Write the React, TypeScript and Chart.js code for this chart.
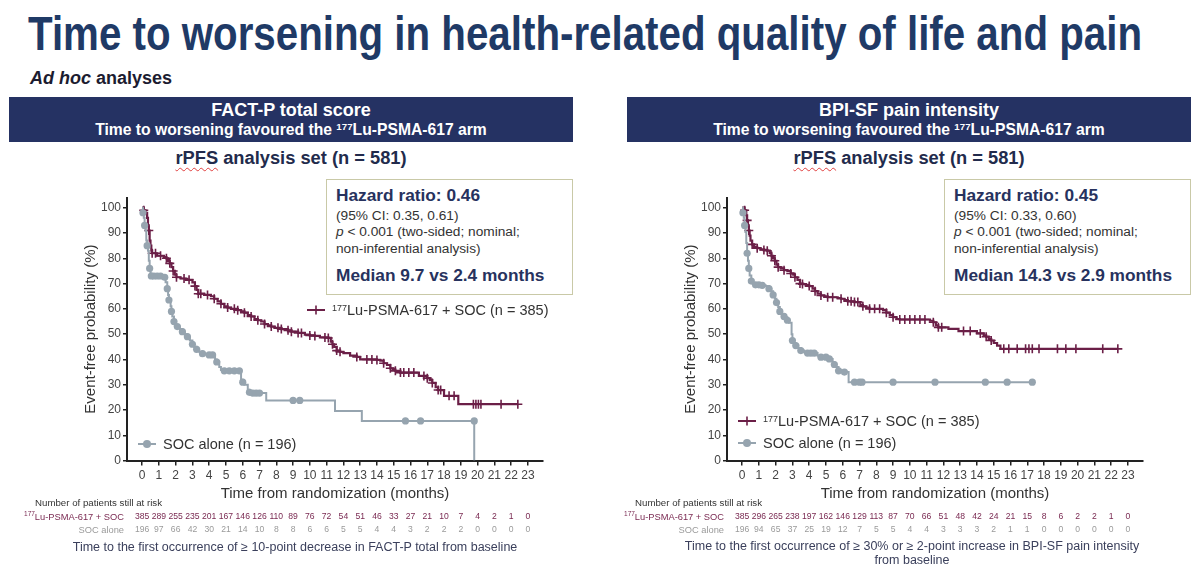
import React, { useEffect, useRef } from "react";
import { Chart, registerables } from "chart.js";

Chart.register(...registerables);

const FONT = '"Liberation Sans", Arial, Helvetica, sans-serif';
const LU_COLOR = "#6b1f47";
const SOC_COLOR = "#96a4af";
const NAVY = "#253263";
const TEXT_NAVY = "#27325e";

// x-axis ticks (months) and y-axis ticks (%)
const xTicks = [0, 1, 2, 3, 4, 5, 6, 7, 8, 9, 10, 11, 12, 13, 14, 15, 16, 17, 18, 19, 20, 21, 22, 23];
const yTicks = [0, 10, 20, 30, 40, 50, 60, 70, 80, 90, 100];

// FACT-P curves: [month, event-free %, censored (1) / event (0)]
const factLuCurve = [
  [0, 100, 0], [0.1, 99, 1], [0.2, 98, 0], [0.3, 96, 0], [0.35, 93, 0], [0.4, 91, 1], [0.45, 87, 0], [0.5, 85, 0],
  [0.55, 83, 0], [0.6, 82, 1], [0.8, 82, 1], [0.9, 81, 0], [1.1, 81, 1], [1.3, 80.5, 0], [1.45, 80, 1], [1.55, 79, 0],
  [1.65, 78, 1], [1.75, 76.5, 0], [1.85, 75, 1], [1.95, 73.5, 0], [2.05, 72.5, 1], [2.3, 72, 0], [2.5, 72, 1],
  [2.6, 71.5, 0], [2.8, 71.5, 1], [3.0, 70.5, 0], [3.15, 69, 1], [3.25, 67.5, 0], [3.35, 66, 1], [3.5, 66, 1],
  [3.7, 65.5, 0], [3.9, 65.5, 1], [4.1, 65, 0], [4.3, 64, 1], [4.5, 63, 0], [4.7, 62, 1], [4.9, 61, 0], [5.1, 60.5, 1],
  [5.3, 60, 0], [5.5, 60, 1], [5.7, 59.5, 1], [5.9, 59, 0], [6.1, 58.5, 1], [6.3, 57.5, 0], [6.5, 57, 1], [6.7, 56, 0],
  [6.9, 55.5, 1], [7.1, 55, 0], [7.3, 54, 1], [7.5, 53.5, 0], [7.7, 53, 1], [7.9, 52.5, 0], [8.1, 52.5, 1], [8.3, 52, 1],
  [8.5, 52, 0], [8.7, 51.5, 1], [8.9, 51, 1], [9.1, 51, 0], [9.3, 50.5, 1], [9.5, 50.5, 1], [9.7, 49.8, 0], [10.0, 49.5, 1],
  [10.3, 49.3, 1], [10.6, 48.7, 0], [10.9, 48.7, 1], [11.1, 48.5, 1], [11.25, 47, 0], [11.35, 46, 1], [11.45, 45, 0],
  [11.6, 43.5, 1], [11.8, 43, 1], [12.0, 42.5, 0], [12.4, 41.5, 0], [12.8, 41, 1], [13.0, 40, 0], [13.4, 40, 1],
  [13.7, 40, 1], [14.0, 39.8, 1], [14.2, 39.5, 0], [14.4, 38.5, 1], [14.6, 37.8, 0], [14.8, 36.5, 1], [14.95, 36, 0],
  [15.1, 35.5, 1], [15.4, 34.8, 1], [15.6, 34.8, 1], [15.9, 34.8, 1], [16.2, 34.8, 1], [16.5, 33.5, 0], [16.8, 33.5, 1],
  [17.0, 32.6, 1], [17.15, 31.8, 0], [17.3, 30.7, 1], [17.5, 29, 0], [17.65, 27.9, 1], [17.8, 27.9, 1], [18.0, 25.6, 0],
  [18.3, 25.6, 1], [18.6, 25.6, 1], [18.85, 22.3, 0], [19.75, 22.3, 1], [19.9, 22.3, 1], [20.05, 22.3, 1],
  [20.2, 22.3, 1], [21.4, 22.3, 1], [22.4, 22.3, 1],
];
const factSocCurve = [
  [0, 100, 0], [0.05, 98, 1], [0.1, 96, 0], [0.15, 93, 1], [0.2, 91, 0], [0.25, 87, 0], [0.3, 85, 1], [0.35, 83, 0],
  [0.4, 79, 0], [0.45, 76, 1], [0.5, 74, 0], [0.55, 73, 1], [0.7, 73, 1], [0.9, 73, 1], [1.1, 73, 1], [1.25, 72.5, 0],
  [1.35, 72.5, 1], [1.4, 70.5, 0], [1.5, 68, 1], [1.55, 65.5, 0], [1.6, 63.5, 1], [1.7, 61, 0], [1.75, 59, 1],
  [1.8, 57, 0], [1.9, 55, 1], [1.95, 53.5, 0], [2.1, 53, 1], [2.25, 52, 0], [2.4, 51, 1], [2.55, 50, 0], [2.7, 49, 1],
  [2.85, 47.5, 0], [3.0, 46, 1], [3.1, 45, 0], [3.25, 44, 1], [3.4, 43, 0], [3.6, 42.3, 1], [3.8, 42, 0], [4.0, 41.8, 1],
  [4.2, 41.8, 1], [4.35, 40, 0], [4.45, 39, 1], [4.6, 37, 0], [4.7, 35.8, 0], [4.9, 35.5, 1], [5.2, 35.5, 1],
  [5.5, 35.5, 1], [5.8, 35.5, 1], [5.9, 32, 0], [6.0, 31, 1], [6.1, 30, 0], [6.3, 28, 0], [6.4, 27, 1], [6.6, 26.7, 1],
  [6.8, 26.7, 1], [7.0, 26.7, 1], [7.4, 23.8, 0], [9.0, 23.8, 1], [9.4, 23.8, 1], [11.5, 19.6, 0], [13.1, 15.7, 0],
  [15.7, 15.7, 1], [16.6, 15.7, 1], [19.8, 15.7, 1], [19.8, 0, 0],
];
const factLuRisk = [385, 289, 255, 235, 201, 167, 146, 126, 110, 89, 76, 72, 54, 51, 46, 33, 27, 21, 10, 7, 4, 2, 1, 0];
const factSocRisk = [196, 97, 66, 42, 30, 21, 14, 10, 8, 8, 6, 6, 5, 5, 4, 4, 3, 2, 2, 2, 0, 0, 0, 0];

// BPI-SF curves
const bpiLuCurve = [
  [0, 100, 0], [0.15, 99, 1], [0.25, 97, 0], [0.3, 95, 1], [0.35, 93, 0], [0.4, 91, 1], [0.45, 89, 0], [0.5, 87, 0],
  [0.6, 85.5, 1], [0.7, 84.5, 0], [0.9, 84, 1], [1.1, 83.5, 0], [1.3, 83.3, 1], [1.5, 83, 1], [1.65, 82, 0],
  [1.75, 81, 1], [1.85, 80, 0], [1.95, 79, 1], [2.05, 77.5, 0], [2.15, 76.5, 1], [2.3, 76, 0], [2.5, 75.3, 1],
  [2.7, 75, 0], [2.9, 74, 1], [3.05, 73.5, 0], [3.15, 72.5, 1], [3.3, 71.5, 0], [3.45, 70, 1], [3.6, 69.8, 1],
  [3.8, 69.5, 0], [4.0, 69, 1], [4.2, 68, 0], [4.35, 67, 1], [4.5, 66, 0], [4.7, 65.3, 1], [4.9, 65, 0], [5.1, 64.6, 1],
  [5.4, 64.6, 1], [5.7, 64.3, 0], [5.9, 64, 1], [6.1, 63.5, 0], [6.3, 63, 1], [6.5, 63, 1], [6.7, 62.7, 1], [6.9, 62.7, 1],
  [7.05, 61.5, 0], [7.2, 61, 1], [7.4, 60.5, 0], [7.6, 60, 1], [7.9, 60, 1], [8.2, 60, 1], [8.4, 59.5, 0], [8.6, 58.5, 1],
  [8.8, 57.5, 0], [9.0, 56.7, 1], [9.2, 56, 0], [9.4, 55.8, 1], [9.7, 55.8, 1], [10.0, 55.8, 1], [10.3, 55.8, 1],
  [10.6, 55.8, 1], [10.9, 55.8, 1], [11.2, 55.3, 0], [11.4, 54.7, 1], [11.55, 53.5, 0], [11.7, 52.7, 1], [11.9, 52.7, 1],
  [12.3, 52.1, 0], [12.9, 51.2, 0], [13.2, 51.2, 1], [13.6, 51.2, 1], [14.0, 50.3, 0], [14.2, 50.3, 1], [14.4, 49.5, 0],
  [14.55, 49, 1], [14.7, 48, 0], [14.85, 47.5, 1], [15.0, 46.5, 0], [15.2, 45.5, 0], [15.4, 44.2, 0], [15.6, 44.2, 1],
  [15.9, 44.2, 1], [16.4, 44.2, 1], [16.9, 44.2, 1], [17.1, 44.2, 1], [17.3, 44.2, 1], [17.7, 44.2, 1], [18.8, 44.2, 1],
  [19.3, 44.2, 1], [19.9, 44.2, 1], [21.5, 44.2, 1], [22.4, 44.2, 1],
];
const bpiSocCurve = [
  [0, 100, 0], [0.05, 98, 1], [0.1, 96, 0], [0.15, 93, 1], [0.2, 90.4, 0], [0.25, 86, 0], [0.3, 82, 1], [0.35, 79, 0],
  [0.4, 76, 1], [0.45, 73.2, 0], [0.55, 71, 1], [0.65, 70, 0], [0.8, 69.5, 1], [1.0, 69.5, 1], [1.2, 69.3, 1],
  [1.4, 69, 0], [1.6, 68, 1], [1.75, 67, 0], [1.85, 65.5, 1], [1.95, 64, 0], [2.05, 62.5, 1], [2.15, 60.7, 0],
  [2.25, 59, 1], [2.35, 58, 0], [2.5, 57, 1], [2.6, 56.7, 0], [2.7, 55.5, 1], [2.8, 54.5, 0], [2.95, 50, 0],
  [3.0, 47.5, 1], [3.1, 46.5, 0], [3.2, 45.5, 1], [3.35, 44.5, 0], [3.5, 43.5, 1], [3.7, 42.8, 0], [3.9, 42.5, 1],
  [4.1, 42.5, 1], [4.3, 42.5, 1], [4.5, 41.5, 0], [4.7, 40.9, 1], [5.0, 40.9, 1], [5.2, 40.2, 1], [5.4, 39, 0],
  [5.5, 38, 1], [5.6, 37, 0], [5.75, 35.5, 1], [5.9, 35, 0], [6.1, 35, 1], [6.35, 31, 0], [6.7, 31, 1], [7.0, 31, 1],
  [7.15, 31, 1], [9.0, 31, 1], [11.5, 31, 1], [14.5, 31, 1], [15.8, 31, 1], [17.3, 31, 1],
];
const bpiLuRisk = [385, 296, 265, 238, 197, 162, 146, 129, 113, 87, 70, 66, 51, 48, 42, 24, 21, 15, 8, 6, 2, 2, 1, 0];
const bpiSocRisk = [196, 94, 65, 37, 25, 19, 12, 7, 5, 5, 4, 4, 3, 3, 3, 2, 1, 1, 0, 0, 0, 0, 0, 0];

type Curve = number[][];

function KMChart(props: { left: number; lu: Curve; soc: Curve; luRisk: number[]; socRisk: number[] }) {
  const ref = useRef<HTMLCanvasElement | null>(null);
  useEffect(() => {
    if (!ref.current) return;
    const { lu, soc, luRisk, socRisk } = props;
    const riskPlugin = {
      id: "riskTable",
      afterDraw(chart: any) {
        const ctx = chart.ctx as CanvasRenderingContext2D;
        const xs = chart.scales.x;
        ctx.save();
        ctx.textBaseline = "middle";
        ctx.font = `9.7px ${FONT}`;
        ctx.fillStyle = "#333";
        ctx.textAlign = "left";
        ctx.fillText("Number of patients still at risk", 35, 318);
        ctx.textAlign = "center";
        ctx.font = `8.6px ${FONT}`;
        xTicks.forEach((m, i) => {
          const px = xs.getPixelForValue(m);
          ctx.fillStyle = "#7a2a52";
          ctx.fillText(String(luRisk[i]), px, 332);
          ctx.fillStyle = "#9a9a9a";
          ctx.fillText(String(socRisk[i]), px, 345);
        });
        ctx.font = `9.3px ${FONT}`;
        ctx.textAlign = "right";
        ctx.fillStyle = "#7a2a52";
        const lab = "Lu-PSMA-617 + SOC";
        ctx.fillText(lab, 124, 332);
        const w = ctx.measureText(lab).width;
        ctx.font = `6.5px ${FONT}`;
        ctx.fillText("177", 124 - w, 329);
        ctx.font = `9.3px ${FONT}`;
        ctx.fillStyle = "#9a9a9a";
        ctx.fillText("SOC alone", 124, 345);
        ctx.restore();
      },
    };
    const chart = new Chart(ref.current, {
      type: "line",
      data: {
        datasets: [
          {
            label: "SOC alone",
            data: soc.map((p) => ({ x: p[0], y: p[1] })),
            borderColor: SOC_COLOR,
            backgroundColor: SOC_COLOR,
            borderWidth: 2,
            stepped: true,
            fill: false,
            pointStyle: "circle",
            pointRadius: (c: any) => (soc[c.dataIndex] && soc[c.dataIndex][2] ? 3.6 : 0),
            pointBackgroundColor: SOC_COLOR,
            pointBorderColor: SOC_COLOR,
            pointBorderWidth: 0,
            pointHoverRadius: 0,
          },
          {
            label: "177Lu-PSMA-617 + SOC",
            data: lu.map((p) => ({ x: p[0], y: p[1] })),
            borderColor: LU_COLOR,
            backgroundColor: LU_COLOR,
            borderWidth: 2.2,
            stepped: true,
            fill: false,
            pointStyle: "cross",
            pointRadius: (c: any) => (lu[c.dataIndex] && lu[c.dataIndex][2] ? 4.5 : 0),
            pointBorderColor: LU_COLOR,
            pointBorderWidth: 1.6,
            pointHoverRadius: 0,
          },
        ],
      } as any,
      options: {
        responsive: false,
        animation: false,
        events: [],
        layout: { padding: { left: 78, right: 57, top: 12.6, bottom: 62.4 } },
        plugins: { legend: { display: false }, tooltip: { enabled: false } },
        scales: {
          x: {
            type: "linear",
            min: -0.9,
            max: 23.9,
            afterBuildTicks: (s: any) => {
              s.ticks = xTicks.map((v) => ({ value: v }));
            },
            afterFit: (s: any) => {
              s.height = 46;
            },
            ticks: { font: { size: 12, family: FONT }, color: "#444", padding: 3, maxRotation: 0, autoSkip: false },
            grid: { drawOnChartArea: false, drawTicks: true, tickLength: 5, color: "#222", lineWidth: 1.5 },
            border: { display: true, color: "#222", width: 2 },
            title: {
              display: true,
              text: "Time from randomization (months)",
              font: { size: 15, family: FONT },
              color: "#333",
              padding: { top: 4, bottom: 4 },
            },
          },
          y: {
            type: "linear",
            min: 0,
            max: 104,
            afterBuildTicks: (s: any) => {
              s.ticks = yTicks.map((v) => ({ value: v }));
            },
            afterFit: (s: any) => {
              s.width = 49;
            },
            ticks: { font: { size: 12, family: FONT }, color: "#444", padding: 2 },
            grid: { drawOnChartArea: false, drawTicks: true, tickLength: 4, color: "#222", lineWidth: 1.5 },
            border: { display: true, color: "#222", width: 2 },
            title: {
              display: true,
              text: "Event-free probability (%)",
              font: { size: 15, family: FONT },
              color: "#333",
              padding: { top: 4, bottom: 4 },
            },
          },
        },
      } as any,
      plugins: [riskPlugin],
    });
    return () => chart.destroy();
  }, []);
  return (
    <canvas
      ref={ref}
      width={600}
      height={384}
      style={{ position: "absolute", left: props.left, top: 185, width: 600, height: 384 }}
    />
  );
}

const abs = (l: number, t: number, extra: any = {}): any => ({ position: "absolute", left: l, top: t, ...extra });

function Sup177() {
  return <span style={{ fontSize: "0.62em", position: "relative", top: "-0.5em" }}>177</span>;
}

function HeaderBox(props: { left: number; title: string }) {
  return (
    <div style={abs(props.left, 97, { width: 564, height: 45, background: NAVY, color: "#fff", fontWeight: "bold" })}>
      <div style={abs(0, 4, { width: 564, textAlign: "center", fontSize: 18, lineHeight: "18px" })}>{props.title}</div>
      <div style={abs(0, 25, { width: 564, textAlign: "center", fontSize: 15.7, lineHeight: "16px" })}>
        Time to worsening favoured the <Sup177 />Lu-PSMA-617 arm
      </div>
    </div>
  );
}

function RpfsLabel(props: { cx: number }) {
  return (
    <div
      style={abs(props.cx - 150, 149, {
        width: 300,
        textAlign: "center",
        fontSize: 18.3,
        lineHeight: "18px",
        fontWeight: "bold",
        color: "#222b4c",
      })}
    >
      <span style={{ textDecoration: "underline wavy #e04040", textDecorationThickness: 1, textUnderlineOffset: 3 }}>rPFS</span>{" "}
      analysis set (n = 581)
    </div>
  );
}

function HRBox(props: { left: number; hr: string; ci: string; median: string }) {
  const bold = { fontWeight: "bold", color: TEXT_NAVY, fontSize: 17.3, lineHeight: "17px", whiteSpace: "nowrap" };
  const reg = { color: "#333", fontSize: 13.7, lineHeight: "14px", whiteSpace: "nowrap" };
  return (
    <div
      style={abs(props.left, 179, {
        width: 247,
        height: 116,
        border: "1.5px solid #c9c9a7",
        boxSizing: "border-box",
        background: "#fff",
      })}
    >
      <div style={abs(9, 7, bold)}>Hazard ratio: {props.hr}</div>
      <div style={abs(9, 28.5, reg)}>(95% CI: {props.ci})</div>
      <div style={abs(9, 45, reg)}>
        <i>p</i> &lt; 0.001 (two-sided; nominal;
      </div>
      <div style={abs(9, 62, reg)}>non-inferential analysis)</div>
      <div style={abs(9, 86.5, bold)}>{props.median}</div>
    </div>
  );
}

function LegendItem(props: { x: number; y: number; kind: "lu" | "soc"; children: any }) {
  return (
    <div style={abs(props.x, props.y - 9, { height: 18, display: "flex", alignItems: "center", whiteSpace: "nowrap" })}>
      <svg width={20} height={12} style={{ marginRight: 6 }}>
        <line x1={1} y1={6} x2={19} y2={6} stroke={props.kind === "lu" ? LU_COLOR : SOC_COLOR} strokeWidth={2} />
        {props.kind === "lu" ? (
          <line x1={10} y1={1.5} x2={10} y2={10.5} stroke={LU_COLOR} strokeWidth={1.6} />
        ) : (
          <circle cx={10} cy={6} r={4} fill={SOC_COLOR} />
        )}
      </svg>
      <span style={{ fontSize: 14.5, color: "#333" }}>{props.children}</span>
    </div>
  );
}

export default function App() {
  return (
    <div
      style={{
        position: "absolute",
        left: 0,
        top: 0,
        width: 1200,
        height: 569,
        overflow: "hidden",
        background: "#fff",
        fontFamily: FONT,
      }}
    >
      <svg width={1200} height={66} style={abs(0, 0)}>
        <text
          x={28}
          y={50}
          textLength={1114}
          lengthAdjust="spacingAndGlyphs"
          fontSize={48}
          fontWeight="bold"
          fontFamily={FONT}
          fill="#1f3a66"
        >
          Time to worsening in health-related quality of life and pain
        </text>
      </svg>
      <div style={abs(30, 69, { fontSize: 18, lineHeight: "18px", fontWeight: "bold", color: "#1c1c30" })}>
        <i>Ad hoc</i> analyses
      </div>

      <HeaderBox left={9} title="FACT-P total score" />
      <HeaderBox left={627} title="BPI-SF pain intensity" />
      <RpfsLabel cx={291} />
      <RpfsLabel cx={909} />

      <KMChart left={0} lu={factLuCurve} soc={factSocCurve} luRisk={factLuRisk} socRisk={factSocRisk} />
      <KMChart left={600} lu={bpiLuCurve} soc={bpiSocCurve} luRisk={bpiLuRisk} socRisk={bpiSocRisk} />

      <HRBox left={326} hr="0.46" ci="0.35, 0.61" median="Median 9.7 vs 2.4 months" />
      <HRBox left={944} hr="0.45" ci="0.33, 0.60" median="Median 14.3 vs 2.9 months" />

      <LegendItem x={306} y={310} kind="lu">
        <Sup177 />Lu-PSMA-617 + SOC (n = 385)
      </LegendItem>
      <LegendItem x={137} y={444} kind="soc">
        SOC alone (n = 196)
      </LegendItem>
      <LegendItem x={737} y={421} kind="lu">
        <Sup177 />Lu-PSMA-617 + SOC (n = 385)
      </LegendItem>
      <LegendItem x={737} y={443} kind="soc">
        SOC alone (n = 196)
      </LegendItem>

      <div
        style={abs(45, 540, {
          width: 500,
          textAlign: "center",
          fontSize: 12.5,
          lineHeight: "14px",
          color: "#3b405c",
          whiteSpace: "nowrap",
        })}
      >
        Time to the first occurrence of ≥ 10-point decrease in FACT-P total from baseline
      </div>
      <div
        style={abs(662, 540, {
          width: 500,
          textAlign: "center",
          fontSize: 12.5,
          lineHeight: "13.5px",
          color: "#3b405c",
        })}
      >
        Time to the first occurrence of ≥ 30% or ≥ 2-point increase in BPI-SF pain intensity
        <br />
        from baseline
      </div>
    </div>
  );
}
